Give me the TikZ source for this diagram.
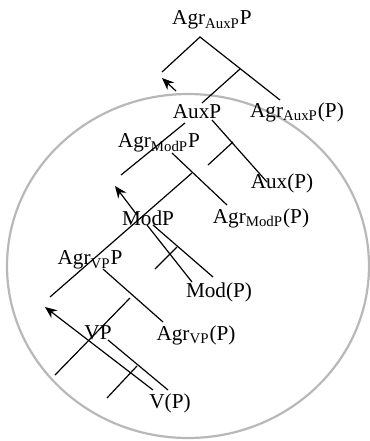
\documentclass[tikz,border=0pt]{standalone}
\usepackage{fontspec}
\setmainfont{Liberation Serif}
\usetikzlibrary{arrows.meta}

\tikzset{
  branch/.style={line width=.6pt},
  mv/.style={line width=.6pt,-{Stealth[length=6pt,width=5pt]}},
  lab/.style={inner sep=0pt,font=\fontsize{10.6}{12}\selectfont}
}

\begin{document}
\begin{tikzpicture}[x=.5pt,y=-.5pt]
      \useasboundingbox (0,0) rectangle (370,441);
      % domain
      \draw[black!28,line width=1.1pt] (188,266) ellipse (181 and 172);
      % Agr_AuxP P
      \coordinate (a1) at (200,37);
      \coordinate (a1l) at (162,72);
      \coordinate (a1r) at (280,100);
      \coordinate (b1) at (240,69);
      \coordinate (b1l) at (202,103);
      \draw[branch] (a1l) -- (a1) -- (a1r);
      \draw[branch] (b1) -- (b1l);
      \draw[mv] (176,91) -- (a1l |- 0,78);
      % AuxP
      \coordinate (a2l) at (121,175);
      \coordinate (a2r) at (267,182);
      \coordinate (b2) at (233,142);
      \draw[branch] (185,123) -- (a2l);
      \draw[branch] (212,120) -- (a2r);
      \draw[branch] (b2) -- (208,165);
      % Agr_ModP P
      \coordinate (b3) at (192,173);
      \coordinate (a3r) at (227,205);
      \coordinate (a3l) at (50,297);
      \draw[branch] (172,153) -- (a3r);
      \draw[branch] (b3) -- (a3l);
      \draw[mv] (137,215) -- (115,186);
      % ModP
      \coordinate (b4) at (177,247);
      \draw[branch] (147,225) -- (192,282);
      \draw[branch] (153,225) -- (213,277);
      \draw[branch] (b4) -- (155,269);
      % Agr_VP P
      \coordinate (b5) at (130,298);
      \draw[branch] (103,269) -- (163,322);
      \draw[branch] (b5) -- (55,375);
      % VP
      \coordinate (b6) at (137,366);
      \draw[mv] (153,390) -- (45,307);
      \draw[branch] (108,340) -- (168,390);
      \draw[branch] (b6) -- (107,398);
      % labels
      \node[lab] (agrauxpp) at (212,20) {Agr\textsubscript{AuxP}P};
      \node[lab] (auxp) at (197,112) {AuxP};
      \node[lab] (agrauxp) at (297,112) {Agr\textsubscript{AuxP}(P)};
      \node[lab] (agrmodpp) at (159,143) {Agr\textsubscript{ModP}P};
      \node[lab] (aux) at (282,183) {Aux(P)};
      \node[lab] (modp) at (148,218) {ModP};
      \node[lab] (agrmodp) at (261,218) {Agr\textsubscript{ModP}(P)};
      \node[lab] (agrvpp) at (90,260) {Agr\textsubscript{VP}P};
      \node[lab] (mod) at (219,292) {Mod(P)};
      \node[lab] (vp) at (98,333) {VP};
      \node[lab] (agrvp) at (196,335) {Agr\textsubscript{VP}(P)};
      \node[lab] (v) at (170,403) {V(P)};
    \end{tikzpicture}
\end{document}
